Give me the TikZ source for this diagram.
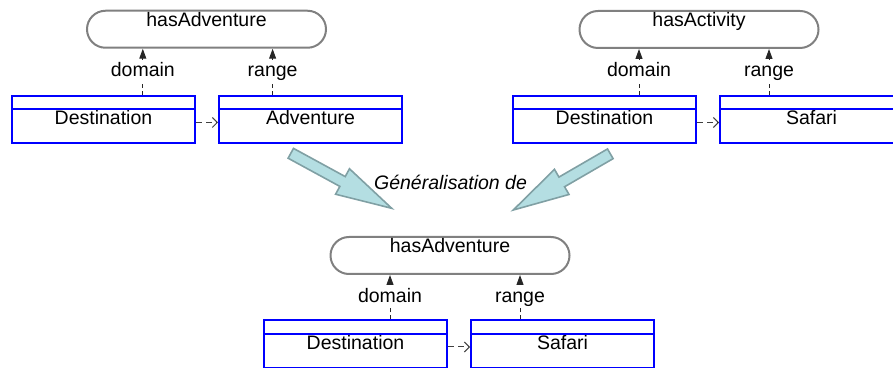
\documentclass[tikz,border=0pt]{standalone}
\usepackage{fontspec}
\setmainfont{Liberation Sans}
\usetikzlibrary{arrows.meta,positioning,calc}
\definecolor{umlblue}{RGB}{0,0,255}
\definecolor{propgray}{RGB}{128,128,128}
\definecolor{genfill}{RGB}{180,222,226}
\definecolor{genline}{RGB}{128,160,164}

\begin{document}
\begin{tikzpicture}[x=0.5pt,y=-0.5pt,node distance=11pt,font=\fontsize{9.75}{12}\selectfont]
\tikzstyle{prop} = [rectangle,rounded corners=9.25pt,draw=propgray,line width=1pt,minimum width=119.5pt,inner sep=0pt,text height=8pt,text depth=10.5pt]
\tikzstyle{cls} = [rectangle,draw=umlblue,line width=1pt,minimum width=91.5pt,inner sep=0pt,text height=14.5pt,text depth=9pt]
\tikzstyle{lbl} = [fill=white,inner sep=1pt,text height=7pt,text depth=2pt]
\tikzstyle{link} = [draw=black!85,line width=0.5pt,dash pattern=on 2pt off 1.5pt,-{Triangle[length=5pt,width=3.5pt]}]
\tikzstyle{dep} = [draw=black!75,line width=0.5pt,dash pattern=on 3pt off 2pt,-{Straight Barb[length=2.5pt,width=5pt]}]
\tikzstyle{genarrow} = [fill=genfill,draw=genline,line width=0.8pt,line join=miter]
    \clip (0,0) rectangle (893,368);

    % two source properties
    \node[prop] (hasadv1) at (206.5,29.25) {hasAdventure};
    \node[cls] (dest1) at (103.5,119.5) {Destination};
    \node[cls] (adv) [right=of dest1] {Adventure};

    \node[prop] (hasact) at (699,29.5) {hasActivity};
    \node[cls] (dest2) at (604.5,119.5) {Destination};
    \node[cls] (safari1) [right=of dest2] {Safari};

    % generalised property
    \node[prop] (hasadv2) at (450,255.5) {hasAdventure};
    \node[cls] (dest3) at (355.5,344) {Destination};
    \node[cls] (safari2) [right=of dest3] {Safari};

    \foreach \b in {dest1,adv,dest2,safari1,dest3,safari2}
        \draw[umlblue,line width=1pt] ([yshift=-7.25pt]\b.north west) -- ([yshift=-7.25pt]\b.north east);

    \draw[link] ([xshift=-26.6pt]dest1.north east) -- node[lbl] {domain} ([xshift=-26.6pt]dest1.north east |- hasadv1.south);
    \draw[link] ([xshift=27.3pt]adv.north west) -- node[lbl] {range} ([xshift=27.3pt]adv.north west |- hasadv1.south);
    \draw[dep] ([yshift=-1.5pt]dest1.east) -- ([yshift=-1.5pt]adv.west);

    \draw[link] ([xshift=-29pt]dest2.north east) -- node[lbl] {domain} ([xshift=-29pt]dest2.north east |- hasact.south);
    \draw[link] ([xshift=25pt]safari1.north west) -- node[lbl] {range} ([xshift=25pt]safari1.north west |- hasact.south);
    \draw[dep] ([yshift=-1.5pt]dest2.east) -- ([yshift=-1.5pt]safari1.west);

    \draw[link] ([xshift=-29pt]dest3.north east) -- node[lbl] {domain} ([xshift=-29pt]dest3.north east |- hasadv2.south);
    \draw[link] ([xshift=25pt]safari2.north west) -- node[lbl] {range} ([xshift=25pt]safari2.north west |- hasadv2.south);
    \draw[dep] ([yshift=-1.5pt]dest3.east) -- ([yshift=-1.5pt]safari2.west);

    % big arrows
    \coordinate (tailL) at (290.8,153.3);
    \coordinate (tipL) at (391.7,208.3);
    \coordinate (tailR) at (610.3,153.8);
    \coordinate (tipR) at (513.3,210);
    \coordinate (baseL) at ($(tipL)!28pt!(tailL)$);
    \coordinate (baseR) at ($(tipR)!28pt!(tailR)$);
    \foreach \t/\k/\e in {tailL/baseL/tipL,tailR/baseR/tipR}
        \draw[genarrow] ($(\t)!2.8pt!90:(\e)$) -- ($(\k)!2.8pt!90:(\e)$) -- ($(\k)!7.25pt!90:(\e)$) -- (\e)
            -- ($(\k)!7.25pt!-90:(\e)$) -- ($(\k)!2.8pt!-90:(\e)$) -- ($(\t)!2.8pt!-90:(\e)$) -- cycle;

    \node[font=\fontsize{9.75}{12}\selectfont\itshape] (gen) at (450.5,182) {Généralisation de};
\end{tikzpicture}
\end{document}
